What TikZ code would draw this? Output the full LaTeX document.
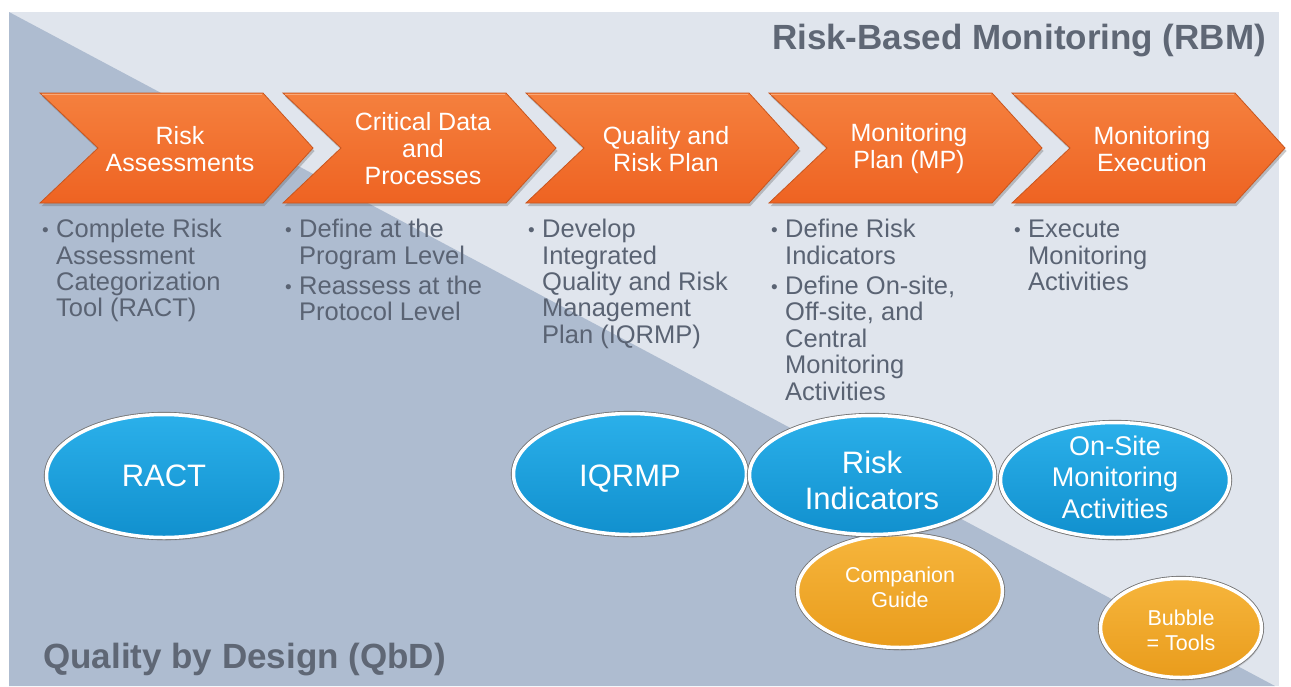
\documentclass[tikz,border=0pt]{standalone}
\usepackage{fontspec}
\setmainfont{Liberation Sans}
\usetikzlibrary{shapes.geometric,shadows}

\definecolor{panelLight}{HTML}{E0E5ED}
\definecolor{panelDark}{HTML}{AEBCD0}
\definecolor{chevTop}{HTML}{F5803E}
\definecolor{chevBot}{HTML}{EE6322}
\definecolor{chevEdge}{HTML}{C8561F}
\definecolor{chevHi}{HTML}{F9A878}
\definecolor{blueTop}{HTML}{2BB0EA}
\definecolor{blueBot}{HTML}{1190CE}
\definecolor{goldTop}{HTML}{F6B53C}
\definecolor{goldBot}{HTML}{E99C1C}
\definecolor{bodyGray}{HTML}{5A6373}
\definecolor{headGray}{HTML}{5F6775}

% bullet marker and hanging indent for the step descriptions
\newcommand\bulmark{\strut\makebox[14pt][l]{\raisebox{1pt}{\fontsize{19}{19}\selectfont\textbullet}}}
\newcommand\bulindent{\hspace*{14pt}}

\tikzset{
  chevshape/.style={top color=chevTop, bottom color=chevBot, draw=chevEdge,
    line width=0.8pt, line join=miter,
    drop shadow={shadow xshift=1.5pt, shadow yshift=-3pt, opacity=0.35, fill=black!60}},
  chevron/.pic={
    \path[chevshape] (0,0) -- (223,0) -- (273,55) -- (223,110) -- (0,110) -- (58,55) -- cycle;
    \draw[chevHi, line width=1.2pt] (2,1.5) -- (222,1.5);
  },
  chevlabel/.style={text=white, align=center, inner sep=0pt,
    font=\fontsize{25}{27}\selectfont},
  bullets/.style={anchor=north west, align=left, inner sep=0pt, text=bodyGray,
    font=\fontsize{25.5}{26.4}\selectfont},
  tool/.style={ellipse, inner sep=0pt,
    draw=white, line width=3.5pt,
    drop shadow={shadow xshift=2pt, shadow yshift=-3pt, opacity=0.3},
    preaction={draw=black!55, line width=5.2pt}},
  bluetool/.style={tool, top color=blueTop, bottom color=blueBot},
  goldtool/.style={tool, top color=goldTop, bottom color=goldBot},
  toollabel/.style={text=white, align=center, inner sep=0pt},
  heading/.style={text=headGray, inner sep=0pt,
    font=\fontsize{35}{40}\selectfont\bfseries},
}

\begin{document}
\begin{tikzpicture}[x=1pt, y=-1pt]
  \useasboundingbox (0,0) rectangle (1291,686);
  \fill[white] (0,0) rectangle (1291,686);

  % background panel: RBM (upper right) over QbD (lower left)
  \fill[panelLight] (9,12) rectangle (1279,686);
  \fill[panelDark] (9,12) -- (1275,686) -- (9,686) -- cycle;

  % headings
  \node[heading, anchor=base] (rbm) at (1019,49) {Risk-Based Monitoring (RBM)};
  \node[heading, anchor=base west] (qbd) at (43,668) {Quality by Design (QbD)};

  % process chevrons
  \pic (ch1) at (40,93) {chevron};
  \pic (ch2) at (283,93) {chevron};
  \pic (ch3) at (526,93) {chevron};
  \pic (ch4) at (769,93) {chevron};
  \pic (ch5) at (1012,93) {chevron};

  \node[chevlabel] (t1) at (180,149) {Risk\\Assessments};
  \node[chevlabel] (t2) at (423,149) {Critical Data\\and\\Processes};
  \node[chevlabel] (t3) at (666,149) {Quality and\\Risk Plan};
  \node[chevlabel] (t4) at (909,149) {Monitoring\\Plan (MP)};
  \node[chevlabel] (t5) at (1152,149) {Monitoring\\Execution};

  % step descriptions
  \node[bullets] (d1) at (42,219.1) {\bulmark Complete Risk\\\bulindent Assessment\\\bulindent Categorization\\\bulindent Tool (RACT)};
  \node[bullets] (d2) at (285,219.1) {\bulmark Define at the\\\bulindent Program Level\\[4pt]\bulmark Reassess at the\\\bulindent Protocol Level};
  \node[bullets] (d3) at (528,219.1) {\bulmark Develop\\\bulindent Integrated\\\bulindent Quality and Risk\\\bulindent Management\\\bulindent Plan (IQRMP)};
  \node[bullets] (d4) at (771,219.1) {\bulmark Define Risk\\\bulindent Indicators\\[4pt]\bulmark Define On-site,\\\bulindent Off-site, and\\\bulindent Central\\\bulindent Monitoring\\\bulindent Activities};
  \node[bullets] (d5) at (1014,219.1) {\bulmark Execute\\\bulindent Monitoring\\\bulindent Activities};

  % tool bubbles
  \node[bluetool, minimum width=235pt, minimum height=123pt] (ract) at (164,476) {};
  \node[bluetool, minimum width=233pt, minimum height=121pt] (iqrmp) at (630,474) {};
  \node[goldtool, minimum width=205pt, minimum height=113pt] (guide) at (900,591) {};
  \node[bluetool, minimum width=245pt, minimum height=119pt] (ri) at (872,475) {};
  \node[bluetool, minimum width=229pt, minimum height=115pt] (onsite) at (1115,480) {};
  \node[goldtool, minimum width=161pt, minimum height=99pt] (bubble) at (1181,628) {};

  \node[toollabel, font=\fontsize{31}{36}\selectfont] (ract-t) at ([yshift=0pt]ract.center) {RACT};
  \node[toollabel, font=\fontsize{31}{36}\selectfont] (iqrmp-t) at ([yshift=-5pt]iqrmp.center) {IQRMP};
  \node[toollabel, font=\fontsize{31}{36}\selectfont] (ri-t) at ([yshift=-5pt]ri.center) {Risk\\Indicators};
  \node[toollabel, font=\fontsize{27}{31.5}\selectfont] (onsite-t) at ([yshift=3pt]onsite.center) {On-Site\\Monitoring\\Activities};
  \node[toollabel, font=\fontsize{21.5}{25}\selectfont] (guide-t) at ([yshift=4pt]guide.center) {Companion\\Guide};
  \node[toollabel, font=\fontsize{21.5}{25}\selectfont] (bubble-t) at ([yshift=-2pt]bubble.center) {Bubble\\= Tools};
\end{tikzpicture}
\end{document}
